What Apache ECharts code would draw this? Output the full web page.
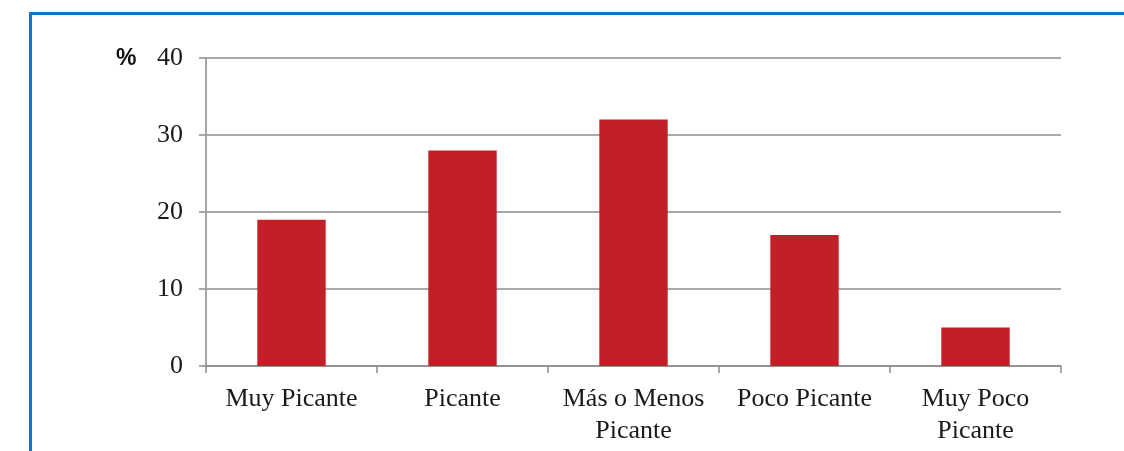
<!DOCTYPE html>
<html><head><meta charset="utf-8">
<script src="https://cdn.jsdelivr.net/npm/echarts@6/dist/echarts.min.js"></script>
<style>html,body{margin:0;padding:0;background:#fff}#c{width:1124px;height:451px}</style>
</head><body><div id="c"></div>
<script>
const categories = ['Muy Picante', 'Picante', 'Más o Menos\nPicante', 'Poco Picante', 'Muy Poco\nPicante'];
const values = [19, 28, 32, 17, 5];
const yTicks = [0, 10, 20, 30, 40];

const chart = echarts.init(document.getElementById('c'), null, {renderer: 'canvas'});
chart.setOption({
  animation: false,
  backgroundColor: '#fff',
  grid: {left: 206, right: 63, top: 58, bottom: 85, containLabel: false},
  graphic: [
    {type: 'line', shape: {x1: 30, y1: 13.5, x2: 1124, y2: 13.5}, style: {stroke: '#1a72bb', lineWidth: 3}},
    {type: 'line', shape: {x1: 30.5, y1: 12, x2: 30.5, y2: 451}, style: {stroke: '#1a72bb', lineWidth: 3}},
    {type: 'text', left: 116, top: 47, style: {text: '%', font: 'bold 23px "Liberation Sans", Arial, sans-serif', fill: '#111'}}
  ],
  xAxis: {
    type: 'category',
    data: categories,
    axisLine: {lineStyle: {color: '#8c8c8c', width: 1.5}},
    axisTick: {show: true, alignWithLabel: false, length: 7, lineStyle: {color: '#8c8c8c', width: 1.5}},
    axisLabel: {interval: 0, margin: 17, color: '#1a1a1a', fontFamily: '"Liberation Serif", "Times New Roman", serif', fontSize: 26, lineHeight: 32}
  },
  yAxis: {
    type: 'value',
    min: 0, max: 40, interval: 10,
    axisLine: {show: true, lineStyle: {color: '#a6a6a6', width: 2}},
    axisTick: {show: true, length: 7, lineStyle: {color: '#8c8c8c', width: 1.5}},
    axisLabel: {margin: 23, color: '#1a1a1a', fontFamily: '"Liberation Serif", "Times New Roman", serif', fontSize: 26,
      formatter: v => yTicks.includes(v) ? String(v) : ''},
    splitLine: {show: true, lineStyle: {color: '#8c8c8c', width: 1.5}}
  },
  series: [{
    type: 'bar',
    data: values,
    barWidth: '40%',
    itemStyle: {color: '#c22027'}
  }]
});
</script></body></html>
